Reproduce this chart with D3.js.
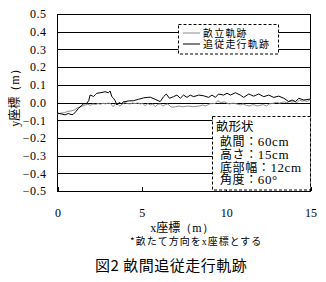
<!DOCTYPE html>
<html>
<head>
<meta charset="utf-8">
<script src="https://cdn.jsdelivr.net/npm/d3@7"></script>
<style>
  body { margin: 0; background: #fff; }
  svg { display: block; }
</style>
</head>
<body>
<div id="chart"></div>
<script>
// tick values
const xTicks = [0, 5, 10, 15];
const yTicks = [-0.5, -0.4, -0.3, -0.2, -0.1, 0.0, 0.1, 0.2, 0.3, 0.4, 0.5];

// 畝立軌跡 (gray)
const ridgeX = [0, 0.2, 0.4, 0.6, 0.8, 1.0, 1.2, 1.35, 1.5, 1.65, 1.8, 1.95, 2.1, 2.25, 2.4, 2.55, 2.7, 2.85, 3.0, 3.15,
  3.3, 3.45, 3.6, 3.7, 3.85, 4.0, 4.15, 4.3, 4.45, 4.6, 4.75, 4.9, 5.05, 5.2, 5.35, 5.5, 5.65, 5.8, 5.95, 6.1,
  6.25, 6.4, 6.55, 6.7, 6.85, 7.0, 7.2, 7.4, 7.6, 7.8, 8.0, 8.2, 8.4, 8.6, 8.8, 9.0, 9.2, 9.35, 9.5, 9.7,
  9.9, 10.05, 10.2, 10.35, 10.5, 10.7, 10.85, 11.0, 11.2, 11.4, 11.55, 11.7, 11.85, 12.0, 12.2, 12.4, 12.55, 12.7, 12.85, 13.0,
  13.15, 13.3, 13.45, 13.6, 13.75, 13.9, 14.05, 14.2, 14.35, 14.5, 14.65, 14.8, 15.0];
const ridgeY = [-0.065, -0.06, -0.058, -0.05, -0.048, -0.042, -0.03, -0.024, -0.02, -0.014, -0.01, -0.016, -0.008, -0.012, -0.006, -0.01, -0.004, -0.008, -0.003, -0.006,
  -0.024, -0.006, -0.012, -0.02, -0.008, 0.0, -0.006, -0.008, -0.003, -0.006, -0.002, -0.008, -0.005, -0.018, -0.006, -0.014, -0.008, -0.024, -0.01, -0.008,
  -0.02, -0.012, -0.008, -0.024, -0.027, -0.024, -0.02, -0.024, -0.022, -0.02, -0.024, -0.022, -0.02, -0.014, -0.02, -0.008, -0.005, -0.006, 0.01, -0.001,
  0.004, -0.004, -0.008, -0.004, -0.005, -0.01, -0.014, -0.008, -0.016, -0.02, -0.012, -0.014, -0.02, -0.016, -0.012, -0.02, -0.008, -0.006, -0.003, 0.002,
  -0.004, 0.0, 0.004, -0.002, 0.008, 0.002, 0.005, 0.0, 0.014, 0.008, 0.01, 0.006, 0.018];

// 追従走行軌跡 (black)
const followX = [0, 0.25, 0.45, 0.64, 0.8, 0.92, 1.1, 1.24, 1.4, 1.53, 1.73, 1.85, 1.93, 2.05, 2.13, 2.25, 2.33, 2.53, 2.7, 2.82,
  3.02, 3.12, 3.22, 3.32, 3.42, 3.52, 3.65, 3.81, 3.9, 4.01, 4.21, 4.5, 4.8, 5.1, 5.35, 5.5, 5.79, 6.09, 6.29, 6.45,
  6.64, 6.88, 7.08, 7.28, 7.47, 7.68, 7.87, 8.07, 8.37, 8.66, 8.96, 9.16, 9.36, 9.55, 9.85, 10.05, 10.25, 10.55, 10.84, 11.04,
  11.34, 11.63, 11.93, 12.23, 12.52, 12.82, 13.12, 13.42, 13.71, 13.91, 14.11, 14.31, 14.6, 14.9, 15.0];
const followY = [-0.06, -0.065, -0.07, -0.062, -0.068, -0.068, -0.05, -0.033, -0.02, -0.008, -0.005, 0.01, 0.042, 0.038, 0.033, 0.045, 0.052, 0.055, 0.058, 0.061,
  0.055, 0.065, 0.033, 0.024, 0.01, -0.014, 0.0, -0.008, 0.004, 0.005, 0.009, 0.01, 0.018, 0.026, 0.029, 0.03, 0.018, 0.005, 0.033, 0.048,
  0.024, 0.033, 0.042, 0.024, 0.042, 0.029, 0.042, 0.033, 0.042, 0.038, 0.029, 0.042, 0.029, 0.048, 0.042, 0.052, 0.042, 0.055, 0.042, 0.029,
  0.048, 0.036, 0.048, 0.033, 0.042, 0.029, 0.036, 0.024, 0.005, 0.014, 0.005, 0.024, 0.014, 0.018, 0.02];

const legendLabels = ["畝立軌跡", "追従走行軌跡"];
const shapeTitle = "畝形状";
const shapeRows = [["畝間：", "60cm"], ["高さ：", "15cm"], ["底部幅：", "12cm"], ["角度：", "60°"]];

const width = 326, height = 282;
const plot = { left: 57.5, right: 310.5, top: 14, bottom: 191 };
const jp = "'Noto Sans CJK JP', sans-serif";
const serif = "'Liberation Serif', 'Times New Roman', serif";

const svg = d3.select("#chart").append("svg")
  .attr("width", width).attr("height", height);

const x = d3.scaleLinear().domain([0, 15]).range([plot.left, plot.right]);
const y = d3.scaleLinear().domain([-0.5, 0.5]).range([plot.bottom, plot.top]);

// y axis with gridlines
const yAxis = svg.append("g")
  .attr("transform", `translate(${plot.left},0)`)
  .call(d3.axisLeft(y).tickValues(yTicks).tickFormat(d3.format(".1f"))
    .tickSize(-(plot.right - plot.left)).tickPadding(11));
yAxis.select(".domain").remove();
yAxis.selectAll("line").attr("stroke", "#000").attr("shape-rendering", "crispEdges");
yAxis.selectAll("text").attr("font-family", serif).attr("font-size", 12)
  .attr("fill", "#000").attr("letter-spacing", 0.5);

// x axis, inward ticks
const xAxis = svg.append("g")
  .attr("transform", `translate(0,${plot.bottom})`)
  .call(d3.axisBottom(x).tickValues(xTicks).tickSize(-4).tickPadding(17));
xAxis.select(".domain").remove();
xAxis.selectAll("line").attr("stroke", "#000").attr("shape-rendering", "crispEdges");
xAxis.selectAll("text").attr("font-family", serif).attr("font-size", 12).attr("fill", "#000");

// plot frame
svg.append("rect")
  .attr("x", plot.left).attr("y", plot.top)
  .attr("width", plot.right - plot.left).attr("height", plot.bottom - plot.top)
  .attr("fill", "none").attr("stroke", "#000").attr("shape-rendering", "crispEdges");

const line = d3.line().x(d => x(d[0])).y(d => y(d[1]));

svg.append("path")
  .datum(ridgeX.map((v, i) => [v, ridgeY[i]]))
  .attr("d", line).attr("fill", "none").attr("stroke", "#8c8c8c").attr("stroke-width", 1);

svg.append("path")
  .datum(followX.map((v, i) => [v, followY[i]]))
  .attr("d", line).attr("fill", "none").attr("stroke", "#000").attr("stroke-width", 1);

// legend
svg.append("rect")
  .attr("x", 178.5).attr("y", 24.5).attr("width", 100).attr("height", 29.5)
  .attr("fill", "#fff").attr("stroke", "#000").attr("stroke-dasharray", "3,2");
const legendColors = ["#8c8c8c", "#000"];
legendLabels.forEach((lab, i) => {
  const ly = 33 + i * 11;
  svg.append("line").attr("x1", 183).attr("x2", 200).attr("y1", ly).attr("y2", ly)
    .attr("stroke", legendColors[i]);
  svg.append("text").attr("x", 203).attr("y", ly + 4)
    .attr("font-family", jp).attr("font-size", 10).attr("letter-spacing", 1.2)
    .text(lab);
});

// ridge shape box
svg.append("rect")
  .attr("x", 212.5).attr("y", 116.5).attr("width", 98).attr("height", 73.5)
  .attr("fill", "#fff").attr("stroke", "#000").attr("stroke-dasharray", "3,2");
svg.append("text").attr("x", 216).attr("y", 131)
  .attr("font-family", jp).attr("font-size", 12.5).text(shapeTitle);
shapeRows.forEach((r, i) => {
  const t = svg.append("text").attr("x", 220).attr("y", 146 + i * 12.8)
    .attr("font-size", 12).attr("letter-spacing", 0.6);
  t.append("tspan").attr("font-family", jp).text(r[0]);
  t.append("tspan").attr("font-family", serif).attr("font-size", 13).text(r[1]);
});

// axis titles
const xt = svg.append("text").attr("x", 182).attr("y", 231.5).attr("text-anchor", "middle").attr("font-size", 12);
xt.append("tspan").attr("font-family", serif).text("x");
xt.append("tspan").attr("font-family", jp).text("座標");
xt.append("tspan").attr("font-family", serif).text("（m）");

const yt = svg.append("text").attr("transform", "translate(19,95) rotate(-90)")
  .attr("text-anchor", "middle").attr("font-size", 12);
yt.append("tspan").attr("font-family", serif).text("y");
yt.append("tspan").attr("font-family", jp).text("座標");
yt.append("tspan").attr("font-family", serif).text("（m）");

const note = svg.append("text").attr("x", 130).attr("y", 245).attr("font-size", 10).attr("letter-spacing", 1);
note.append("tspan").attr("font-family", jp).text("*畝たて方向を");
note.append("tspan").attr("font-family", serif).text("x");
note.append("tspan").attr("font-family", jp).text("座標とする");

svg.append("text").attr("x", 95).attr("y", 270.5)
  .attr("font-family", jp).attr("font-size", 15).attr("letter-spacing", 0.5)
  .text("図2  畝間追従走行軌跡");
</script>
</body>
</html>
